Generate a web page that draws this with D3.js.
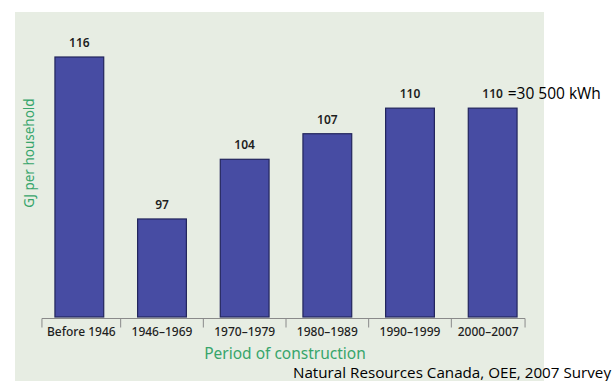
<!DOCTYPE html>
<html lang="en">
<head>
<meta charset="UTF-8">
<title>GJ per household by period of construction</title>
<script src="https://d3js.org/d3.v7.min.js"></script>
<style>
  body { margin: 0; background: #fff; }
</style>
</head>
<body>
<div id="chart"></div>
<script>
  const periods = ["Before 1946", "1946–1969", "1970–1979", "1980–1989", "1990–1999", "2000–2007"];
  const gjPerHousehold = [116, 97, 104, 107, 110, 110];
  const noteText = "=30 500 kWh";
  const sourceText = "Natural Resources Canada, OEE, 2007 Survey";

  const W = 612, H = 381;
  const svg = d3.select("#chart").append("svg")
      .attr("width", W)
      .attr("height", H);

  // pale green panel behind the chart (scanned figure)
  svg.append("rect")
      .attr("x", 15).attr("y", 12)
      .attr("width", 529).attr("height", H - 12)
      .attr("fill", "#e7ede3");

  const x = d3.scaleBand()
      .domain(periods)
      .range([38, 534])
      .paddingInner(0.41)
      .paddingOuter(0.205);

  const y = d3.scaleLinear()
      .domain([85.5, 116])
      .range([317, 57]);

  const data = periods.map((p, i) => ({ period: p, value: gjPerHousehold[i] }));

  svg.selectAll(".bar")
      .data(data)
      .enter()
      .append("rect")
      .attr("class", "bar")
      .attr("x", d => x(d.period))
      .attr("y", d => y(d.value))
      .attr("width", x.bandwidth())
      .attr("height", d => y.range()[0] - y(d.value))
      .attr("fill", "#474ca3")
      .attr("stroke", "#22255c")
      .attr("stroke-width", 1.2);

  svg.selectAll(".val")
      .data(data)
      .enter()
      .append("text")
      .attr("class", "val")
      .attr("x", d => x(d.period) + x.bandwidth() / 2)
      .attr("y", d => y(d.value) - 10)
      .attr("text-anchor", "middle")
      .attr("font-family", "Noto Sans")
      .attr("font-size", "12px")
      .attr("font-weight", 600)
      .attr("fill", "#1e1e1e")
      .text(d => d.value);

  // x axis: separators between categories, labels centred between them
  const bw = x.bandwidth();
  const sep = [x(periods[0]) - 13];
  for (let i = 0; i < periods.length - 1; i++) {
    sep.push((x(periods[i]) + bw + x(periods[i + 1])) / 2);
  }
  sep.push(x(periods[periods.length - 1]) + bw + 8);

  const axisY = 318.5;
  const axis = svg.append("g").attr("stroke", "#8a8a8a").attr("stroke-width", 1);
  axis.append("line")
      .attr("x1", sep[0]).attr("x2", sep[sep.length - 1])
      .attr("y1", axisY).attr("y2", axisY);
  axis.selectAll(".tick")
      .data(sep)
      .enter()
      .append("line")
      .attr("x1", d => d).attr("x2", d => d)
      .attr("y1", axisY).attr("y2", axisY + 9);

  svg.selectAll(".xlab")
      .data(periods)
      .enter()
      .append("text")
      .attr("class", "xlab")
      .attr("x", (d, i) => (sep[i] + sep[i + 1]) / 2)
      .attr("y", 336)
      .attr("text-anchor", "middle")
      .attr("font-family", "Noto Sans")
      .attr("font-size", "12px")
      .attr("font-weight", 500)
      .attr("fill", "#1e1e1e")
      .text(d => d);

  // axis titles
  svg.append("text")
      .attr("transform", "translate(34,153) rotate(-90)")
      .attr("text-anchor", "middle")
      .attr("font-family", "Noto Sans")
      .attr("font-size", "13.5px")
      .attr("fill", "#37a56b")
      .text("GJ per household");

  svg.append("text")
      .attr("x", 285)
      .attr("y", 359)
      .attr("text-anchor", "middle")
      .attr("font-family", "Noto Sans")
      .attr("font-size", "15.5px")
      .attr("fill", "#37a56b")
      .text("Period of construction");

  // annotation and source
  const last = data[data.length - 1];
  svg.append("text")
      .attr("x", x(last.period) + bw / 2 + 15)
      .attr("y", y(last.value) - 9)
      .attr("font-family", "Open Sans")
      .attr("font-size", "15.5px")
      .attr("fill", "#000")
      .text(noteText);

  svg.append("text")
      .attr("x", 293)
      .attr("y", 378)
      .attr("font-family", "Open Sans")
      .attr("font-size", "15.2px")
      .attr("fill", "#000")
      .text(sourceText);
</script>
</body>
</html>
